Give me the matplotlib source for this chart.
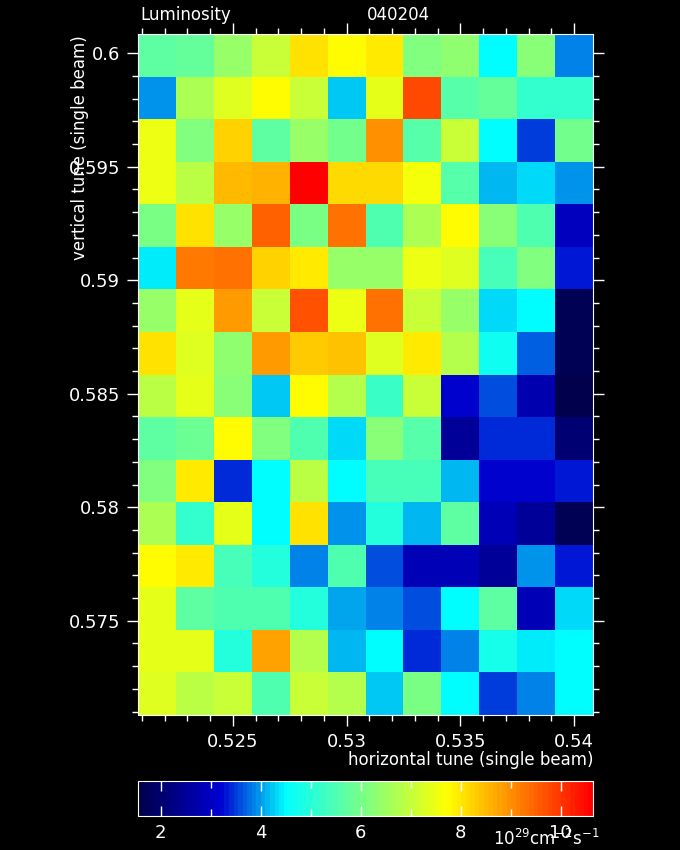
import numpy as np
import matplotlib
matplotlib.use('Agg')
import matplotlib.pyplot as plt
from matplotlib.colors import LinearSegmentedColormap, Normalize
from matplotlib.ticker import MultipleLocator, FuncFormatter

# tune grid (cell centres)
qx = [0.52167, 0.52333, 0.52500, 0.52667, 0.52833, 0.53000,
      0.53167, 0.53333, 0.53500, 0.53667, 0.53833, 0.54000]
qy = [0.59991, 0.59804, 0.59616, 0.59429, 0.59241, 0.59054, 0.58866, 0.58679,
      0.58491, 0.58304, 0.58116, 0.57929, 0.57741, 0.57554, 0.57366, 0.57179]

# luminosity [1e29 cm^-2 s^-1], rows from top (qy[0]) to bottom
lumi = [
    [5.73, 5.80, 6.45, 7.10, 8.04, 7.75, 8.00, 6.13, 6.30, 4.50, 6.25, 3.85],
    [4.00, 6.70, 7.30, 7.75, 7.10, 4.24, 7.40, 9.78, 5.58, 5.80, 5.15, 5.15],
    [7.50, 6.10, 8.24, 5.73, 6.45, 5.93, 9.00, 5.58, 7.10, 4.50, 3.53, 5.93],
    [7.50, 6.90, 8.53, 8.62, 10.65, 8.13, 8.13, 7.62, 5.58, 4.15, 4.35, 4.00],
    [6.03, 8.04, 6.45, 9.49, 6.03, 9.30, 5.48, 6.70, 7.75, 6.20, 5.48, 2.95],
    [4.45, 9.20, 9.37, 8.27, 7.98, 6.45, 6.45, 7.50, 7.35, 5.40, 6.10, 3.35],
    [6.45, 7.40, 8.85, 7.10, 9.69, 7.50, 9.30, 7.10, 6.45, 4.37, 4.55, 1.65],
    [8.10, 7.30, 6.30, 8.90, 8.33, 8.39, 7.30, 7.92, 6.78, 4.72, 3.67, 1.65],
    [6.90, 7.40, 6.25, 4.24, 7.75, 6.78, 5.25, 7.10, 3.10, 3.63, 2.79, 1.55],
    [5.67, 5.85, 7.75, 6.10, 5.48, 4.37, 6.25, 5.58, 2.48, 3.37, 3.45, 2.07],
    [6.10, 7.95, 3.37, 4.50, 6.90, 4.50, 5.40, 5.40, 4.11, 3.10, 3.10, 3.28],
    [6.70, 5.15, 7.40, 4.50, 8.10, 3.95, 4.93, 4.11, 5.67, 2.88, 2.48, 1.65],
    [7.75, 7.95, 5.40, 5.00, 3.90, 5.48, 3.63, 2.88, 2.88, 2.48, 3.93, 3.30],
    [7.40, 5.67, 5.55, 5.55, 4.93, 4.07, 3.90, 3.60, 4.50, 5.67, 2.88, 4.30],
    [7.40, 7.40, 5.00, 8.77, 6.78, 4.15, 4.50, 3.45, 3.85, 4.75, 4.40, 4.55],
    [7.35, 6.90, 7.10, 5.48, 7.05, 6.75, 4.20, 6.03, 4.55, 3.53, 3.90, 4.55],
]

vmin, vmax = 1.55, 10.65

# IDL-like blue-red table
anchors = [(1.55, (0.0, 0.0, 0.30)),
           (3.10, (0.0, 0.0, 0.80)),
           (3.20, (0.0, 0.02, 0.82)),
           (4.50, (0.0, 1.0, 1.0)),
           (7.75, (1.0, 1.0, 0.0)),
           (10.65, (1.0, 0.0, 0.0))]
cmap = LinearSegmentedColormap.from_list(
    'lumi', [((v - vmin) / (vmax - vmin), c) for v, c in anchors], N=100)

plt.rcParams['font.family'] = 'DejaVu Sans'
fig = plt.figure(figsize=(6.8, 8.5), dpi=100, facecolor='black')

ax = fig.add_axes([138 / 680, 1 - 715 / 850, 455 / 680, 681 / 850])
ax.set_facecolor('black')
mesh = ax.pcolormesh(qx, qy, np.array(lumi), cmap=cmap,
                     norm=Normalize(vmin, vmax), shading='nearest')
ax.set_xlim(0.52083, 0.54083)
ax.set_ylim(0.57085, 0.60085)

fmt = FuncFormatter(lambda v, p: f'{v:.3f}'.rstrip('0'))
for axis in (ax.xaxis, ax.yaxis):
    axis.set_major_locator(MultipleLocator(0.005))
    axis.set_minor_locator(MultipleLocator(0.001))
    axis.set_major_formatter(fmt)
ax.tick_params(which='both', direction='out', top=True, right=True,
               colors='white', labelsize=13, width=1)
ax.tick_params(which='major', length=8, pad=5)
ax.tick_params(which='minor', length=4)
for s in ax.spines.values():
    s.set_color('white')

fig.text(140 / 680, 1 - 20 / 850, 'Luminosity', color='white', fontsize=12)
fig.text(367 / 680, 1 - 20 / 850, '040204', color='white', fontsize=12)
fig.text(593 / 680, 1 - 760 / 850, 'horizontal tune (single beam)',
         color='white', fontsize=12, ha='right', va='center')
fig.text(80 / 680, 1 - 35 / 850, 'vertical tune (single beam)',
         color='white', fontsize=12, rotation=90, ha='center', va='top')

cax = fig.add_axes([138 / 680, 1 - 816 / 850, 455 / 680, 35 / 850])
cb = fig.colorbar(mesh, cax=cax, orientation='horizontal')
cb.set_ticks([2, 4, 6, 8, 10])
cax.xaxis.set_minor_locator(MultipleLocator(1))
cax.tick_params(which='both', direction='in', top=True, bottom=True,
                colors='white', labelsize=13, width=1)
cax.tick_params(which='major', length=7, pad=6)
cax.tick_params(which='minor', length=5)
cb.outline.set_edgecolor('white')

fig.text(600 / 680, 1 / 850, r'$10^{29}$cm$^{-2}$s$^{-1}$', color='white',
         fontsize=12, ha='right', va='bottom')

fig.savefig('out.png', dpi=100, facecolor='black')
